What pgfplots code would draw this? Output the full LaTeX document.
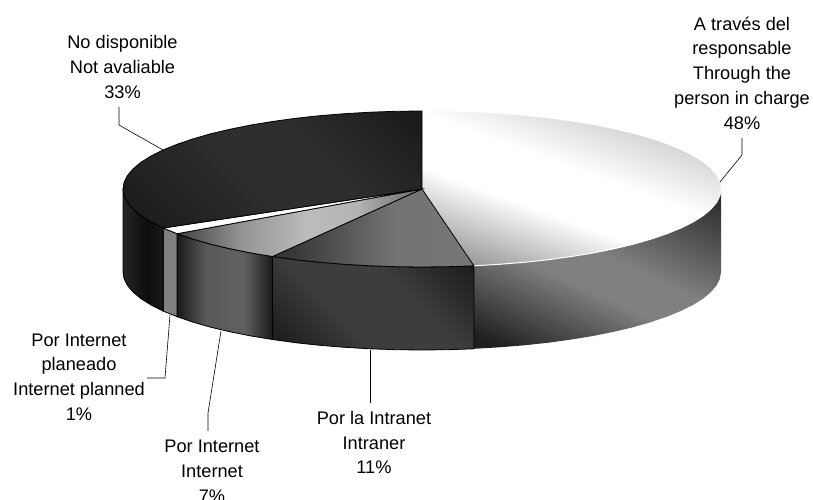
\documentclass[border=0pt]{standalone}
\usepackage{pgfplots}
\usepackage{fontspec}
\setmainfont{Liberation Sans}
\pgfplotsset{compat=1.18}
\pgfdeclareverticalshading{sA}{100bp}{color(0bp)=(black!50); color(18bp)=(black!50); color(42bp)=(white); color(55bp)=(white); color(82bp)=(black!30); color(100bp)=(black!30)}
\pgfdeclareverticalshading{sB}{100bp}{color(0bp)=(black!90); color(20bp)=(black!88); color(44bp)=(black!50); color(54bp)=(black!50); color(80bp)=(black!82); color(100bp)=(black!82)}
\pgfdeclareverticalshading{sC}{100bp}{color(0bp)=(black!92); color(15bp)=(black!90); color(40bp)=(black!76); color(60bp)=(black!76); color(85bp)=(black!90); color(100bp)=(black!92)}
\pgfdeclarehorizontalshading{sD}{100bp}{color(0bp)=(black!85); color(30bp)=(black!78); color(55bp)=(black!55); color(100bp)=(black!52)}
\pgfdeclarehorizontalshading{sE}{100bp}{color(0bp)=(black!75); color(25bp)=(black!75); color(38bp)=(black!42); color(52bp)=(black!26); color(62bp)=(black!30); color(75bp)=(black!60); color(100bp)=(black!60)}
\pgfdeclarehorizontalshading{sF}{100bp}{color(0bp)=(black!90); color(25bp)=(black!90); color(40bp)=(black!65); color(60bp)=(black!62); color(75bp)=(black!90); color(100bp)=(black!90)}
\pgfdeclareverticalshading{sG}{100bp}{color(0bp)=(black!90); color(15bp)=(black!90); color(45bp)=(black!82); color(60bp)=(black!82); color(85bp)=(black!90); color(100bp)=(black!90)}
\pgfdeclarehorizontalshading{sH}{100bp}{color(0bp)=(black!85); color(25bp)=(black!85); color(55bp)=(black!95); color(75bp)=(black!90); color(100bp)=(black!90)}
\begin{document}
\begin{tikzpicture}
\path[use as bounding box,clip] (0,0) rectangle (813pt,500pt);
\begin{axis}[at={(0,0)},anchor=south west,scale only axis,width=813pt,height=500pt,
  xmin=0,xmax=813,ymin=0,ymax=500,y dir=reverse,hide axis,clip=false]
% sides: 48 %
\addplot[draw=none,mark=none,shading=sB,shading angle=-25] coordinates {(721,189)(719.9,195.8)(716.5,202.5)(710.8,209.2)(703,215.7)(693,222)(680.9,228)(666.9,233.7)(651,239.1)(633.4,244.2)(614.2,248.7)(593.5,252.9)(571.5,256.5)(548.4,259.7)(524.3,262.3)(499.4,264.3)(473.9,265.8)
 (473.9,348.8)(499.4,347.3)(524.3,345.3)(548.4,342.7)(571.5,339.5)(593.5,335.9)(614.2,331.7)(633.4,327.2)(651,322.1)(666.9,316.7)(680.9,311)(693,305)(703,298.7)(710.8,292.2)(716.5,285.5)(719.9,278.8)(721,272)} --cycle;
% sides: 11 %
\addplot[draw=black,line width=0.8pt,mark=none,shading=sC,shading angle=-45] coordinates {(473.9,265.8)(448.1,266.7)(422,267)(395.9,266.7)(370.1,265.8)(344.6,264.3)(319.7,262.3)(295.6,259.7)(272.5,256.5)
 (272.5,339.5)(295.6,342.7)(319.7,345.3)(344.6,347.3)(370.1,348.8)(395.9,349.7)(422,350)(448.1,349.7)(473.9,348.8)} --cycle;
% sides: 7 %
\addplot[draw=black,line width=0.8pt,mark=none,shading=sF] coordinates {(272.5,256.5)(250.5,252.9)(229.8,248.7)(210.6,244.2)(193,239.1)(177.1,233.7)
 (177.1,316.7)(193,322.1)(210.6,327.2)(229.8,331.7)(250.5,335.9)(272.5,339.5)} --cycle;
% sides: 1 %
\addplot[draw=black,line width=0.8pt,mark=none,fill=black!50] coordinates {(177.1,233.7)(163.1,228)(163.1,311)(177.1,316.7)} --cycle;
% sides: 33 %
\addplot[draw=black,line width=0.8pt,mark=none,shading=sH] coordinates {(163.1,228)(151,222)(141,215.7)(133.2,209.2)(127.5,202.5)(124.1,195.8)(123,189)
 (123,272)(124.1,278.8)(127.5,285.5)(133.2,292.2)(141,298.7)(151,305)(163.1,311)} --cycle;
% top: 48 %
\addplot[draw=none,mark=none,shading=sA,shading angle=-20] coordinates {(422,189)(422,111)(448.1,111.3)(473.9,112.2)(499.4,113.7)(524.3,115.7)(548.4,118.3)(571.5,121.5)(593.5,125.1)(614.2,129.3)(633.4,133.8)(651,138.9)(666.9,144.3)(680.9,150)(693,156)(703,162.3)(710.8,168.8)(716.5,175.5)(719.9,182.2)(721,189)(719.9,195.8)(716.5,202.5)(710.8,209.2)(703,215.7)(693,222)(680.9,228)(666.9,233.7)(651,239.1)(633.4,244.2)(614.2,248.7)(593.5,252.9)(571.5,256.5)(548.4,259.7)(524.3,262.3)(499.4,264.3)(473.9,265.8)} --cycle;
\addplot[draw=white,line width=1pt,mark=none] coordinates {(721,189)(719.9,195.8)(716.5,202.5)(710.8,209.2)(703,215.7)(693,222)(680.9,228)(666.9,233.7)(651,239.1)(633.4,244.2)(614.2,248.7)(593.5,252.9)(571.5,256.5)(548.4,259.7)(524.3,262.3)(499.4,264.3)(473.9,265.8)};
% top: 11 %
\addplot[draw=black,line width=0.8pt,mark=none,shading=sD] coordinates {(422,189)(473.9,265.8)(448.1,266.7)(422,267)(395.9,266.7)(370.1,265.8)(344.6,264.3)(319.7,262.3)(295.6,259.7)(272.5,256.5)} --cycle;
% top: 7 %
\addplot[draw=black,line width=0.8pt,mark=none,shading=sE] coordinates {(422,189)(272.5,256.5)(250.5,252.9)(229.8,248.7)(210.6,244.2)(193,239.1)(177.1,233.7)} --cycle;
% top: 1 %
\addplot[draw=black,line width=0.8pt,mark=none,fill=white] coordinates {(422,189)(177.1,233.7)(163.1,228)} --cycle;
% top: 33 %
\addplot[draw=black,line width=0.8pt,mark=none,shading=sG,shading angle=-45] coordinates {(422,189)(163.1,228)(151,222)(141,215.7)(133.2,209.2)(127.5,202.5)(124.1,195.8)(123,189)(124.1,182.2)(127.5,175.5)(133.2,168.8)(141,162.3)(151,156)(163.1,150)(177.1,144.3)(193,138.9)(210.6,133.8)(229.8,129.3)(250.5,125.1)(272.5,121.5)(295.6,118.3)(319.7,115.7)(344.6,113.7)(370.1,112.2)(395.9,111.3)(422,111)} --cycle;
% leaders
\addplot[draw=black,line width=0.6pt,mark=none] coordinates {(119,107)(119,125)(163,150)};
\addplot[draw=black,line width=0.6pt,mark=none] coordinates {(720,182)(742,155)(742,138)};
\addplot[draw=black,line width=0.6pt,mark=none] coordinates {(370,350)(370,403)};
\addplot[draw=black,line width=0.6pt,mark=none] coordinates {(221,331)(208,413)(208,431)};
\addplot[draw=black,line width=0.6pt,mark=none] coordinates {(170,315)(165,378)(147,378)};
% labels
\tikzset{lab/.style={align=center,inner sep=0pt,font=\fontsize{18.2}{24.8}\selectfont}}
\node[lab] at (axis cs:122.5,67) {No disponible\\Not avaliable\\33\%};
\node[lab] at (axis cs:742,73) {A través del\\responsable\\Through the\\person in charge\\48\%};
\node[lab] at (axis cs:374,442.5) {Por la Intranet\\Intraner\\11\%};
\node[lab] at (axis cs:212,471) {Por Internet\\Internet\\7\%};
\node[lab] at (axis cs:79,377) {Por Internet\\planeado\\Internet planned\\1\%};
\end{axis}
\end{tikzpicture}
\end{document}
